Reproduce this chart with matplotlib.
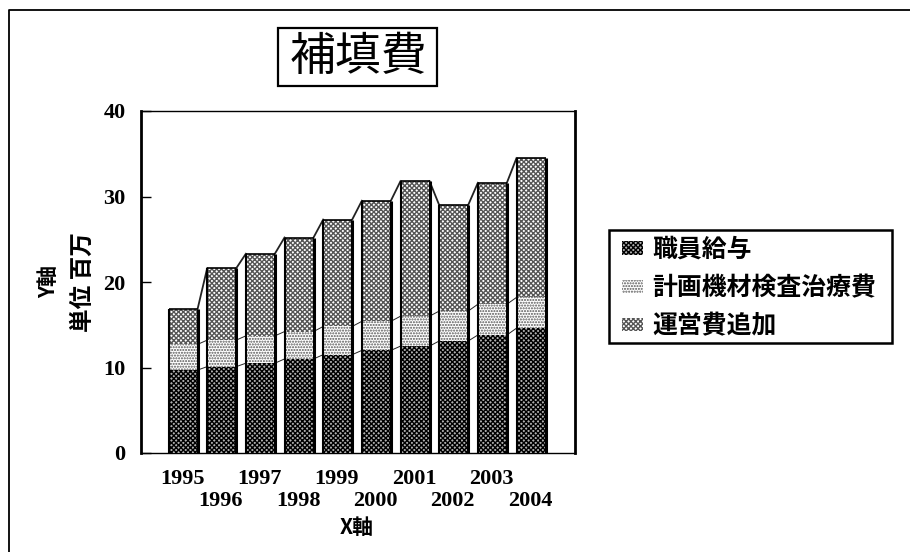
import matplotlib
matplotlib.use('Agg')
import matplotlib.pyplot as plt
from matplotlib.patches import Rectangle
from matplotlib.lines import Line2D
import numpy as np

plt.rcParams['font.family'] = ['Noto Sans CJK JP', 'DejaVu Sans']
plt.rcParams['hatch.linewidth'] = 1.0

years = ['1995', '1996', '1997', '1998', '1999', '2000', '2001', '2002', '2003', '2004']
staff = [9.7, 10.1, 10.5, 11.0, 11.5, 12.0, 12.5, 13.1, 13.8, 14.6]
plan = [3.0, 3.1, 3.2, 3.2, 3.3, 3.4, 3.5, 3.5, 3.6, 3.6]
ops = [4.1, 8.4, 9.6, 11.0, 12.5, 14.1, 15.8, 12.4, 14.2, 16.3]
series_names = ['職員給与', '計画機材検査治療費', '運営費追加']
title = '補填費'
ylabel_1 = 'Y軸'
ylabel_2 = '単位 百万'
xlabel = 'X軸'
yticks = [0, 10, 20, 30, 40]

W, H = 910, 552
SERIF = ['Liberation Serif', 'DejaVu Serif']
fig = plt.figure(figsize=(W / 100, H / 100), dpi=100, facecolor='white')

def px_axes(l, t, r, b):
    return [l / W, 1 - b / H, (r - l) / W, (b - t) / H]

ax = fig.add_axes(px_axes(141, 111, 575, 453))
x = np.arange(len(years))
spacing = 38.67
ax.set_xlim(-(183 - 141) / spacing, (575 - 183) / spacing)
ax.set_ylim(0, 40)
bw = 29 / spacing

styles = [
    dict(facecolor='#b0b0b0', hatch='xxxxxxx', edgecolor='#000000'),
    dict(facecolor='#ffffff', hatch='......', edgecolor='#555555'),
    dict(facecolor='#ffffff', hatch='xxxxxxx', edgecolor='#555555'),
]
bottom = np.zeros(len(x))
handles = []
for vals, st, name in zip([staff, plan, ops], styles, series_names):
    vals = np.array(vals)
    b = ax.bar(x, vals, bw, bottom=bottom, linewidth=0, label=name, zorder=3, **st)
    handles.append(b)
    top = bottom + vals
    for i in range(len(x) - 1):
        ax.plot([x[i] + bw / 2, x[i + 1] - bw / 2], [top[i], top[i + 1]],
                color='#222222', lw=0.7 if name != series_names[2] else 1.3, zorder=2)
    bottom = top
total = bottom
ax.vlines(x + bw / 2, 0, total, color='black', lw=2.2, zorder=4)
ax.vlines(x - bw / 2, 0, total, color='black', lw=1.5, zorder=4)
ax.hlines(total, x - bw / 2, x + bw / 2, color='black', lw=1.2, zorder=4)

for s in ax.spines.values():
    s.set_color('black')
ax.spines['left'].set_linewidth(2.0)
ax.spines['right'].set_linewidth(2.0)
ax.spines['top'].set_linewidth(1.0)
ax.spines['bottom'].set_linewidth(1.0)

ax.set_yticks(yticks)
ax.tick_params(axis='y', direction='in', length=7.5, width=1.0, pad=11, labelsize=16)
for t in ax.get_yticklabels():
    t.set_fontweight('bold')
    t.set_family(SERIF)
ax.set_xticks([])
for i, y in enumerate(years):
    ax.annotate(y, (x[i], 0), xycoords=('data', 'axes fraction'),
                xytext=(-1, -26 if i % 2 == 0 else -48), textcoords='offset pixels',
                ha='center', va='center', fontsize=16, fontweight='bold', family=SERIF)

fig.text(357 / W, 1 - 528 / H, xlabel, ha='center', va='center', fontsize=15, fontweight='bold')
fig.text(49 / W, 1 - 282 / H, ylabel_1, ha='center', va='center', rotation=90,
         fontsize=15, fontweight='bold')
fig.text(83 / W, 1 - 282 / H, ylabel_2, ha='center', va='center', rotation=90,
         fontsize=17, fontweight='bold')

fig.add_artist(Rectangle((278 / W, 1 - 86 / H), (437 - 278) / W, (86 - 28) / H,
                         transform=fig.transFigure, facecolor='white', edgecolor='black', lw=1.6))
fig.text(358 / W, 1 - 57 / H, title, ha='center', va='center', fontsize=33, fontweight='regular')

ax.add_patch(Rectangle((609 / W, 1 - 343 / H), (892 - 609) / W, (343 - 230) / H,
                       transform=fig.transFigure, facecolor='white', edgecolor='black',
                       lw=1.8, clip_on=False, zorder=5))
leg = ax.legend(handles=handles, labels=series_names, loc='upper left',
                bbox_to_anchor=((622 - 141) / 434, 1 - (238 - 111) / 342),
                borderaxespad=0, borderpad=0,
                prop=dict(family=['Noto Sans CJK JP', 'DejaVu Sans'], size=17.9, weight='bold'),
                frameon=False,
                handlelength=0.85, handleheight=0.45, handletextpad=0.36,
                labelspacing=0.56)
leg.set_zorder(6)

fig.add_artist(Line2D([9 / W, 9 / W, 1], [0, 1 - 10 / H, 1 - 10 / H], transform=fig.transFigure,
                      color='black', lw=1.3))

fig.savefig('out.png', dpi=100)
